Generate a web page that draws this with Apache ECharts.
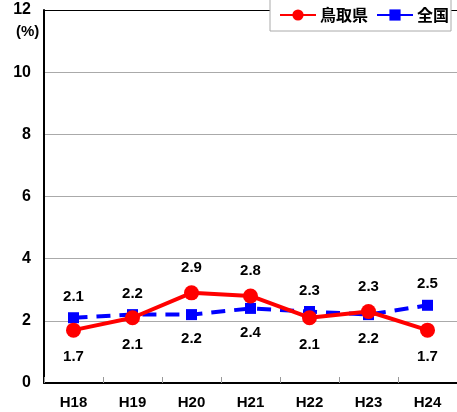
<!DOCTYPE html>
<html>
<head>
<meta charset="utf-8">
<script src="https://cdn.jsdelivr.net/npm/echarts@6/dist/echarts.min.js"></script>
<style>
  html, body { margin: 0; padding: 0; background: #fff; }
  #main { width: 457px; height: 412px; }
</style>
</head>
<body>
<div id="main"></div>
<script>
  // 年度
  var years = ['H18', 'H19', 'H20', 'H21', 'H22', 'H23', 'H24'];
  // 鳥取県
  var tottori = [1.7, 2.1, 2.9, 2.8, 2.1, 2.3, 1.7];
  // 全国
  var zenkoku = [2.1, 2.2, 2.2, 2.4, 2.3, 2.2, 2.5];
  var yTicks = [0, 2, 4, 6, 8, 10, 12];

  var numFont = '"Liberation Sans", Arial, sans-serif';
  var jpFont = '"Noto Sans CJK JP", sans-serif';

  // 値の大きい方を上、小さい方を下にラベルを置く
  function withLabels(vals, other, distUp, distDown) {
    return vals.map(function (v, i) {
      var up = v >= other[i];
      return {
        value: v,
        label: { position: up ? 'top' : 'bottom', distance: up ? distUp : distDown }
      };
    });
  }

  // 一番上の目盛線だけ黒（枠線）
  var splitColors = yTicks.map(function (t, i) {
    return i === yTicks.length - 1 ? '#000' : '#aaa';
  });

  var chart = echarts.init(document.getElementById('main'));
  var option = {
    animation: false,
    grid: { left: 44, right: 0, top: 10, bottom: 29 },
    legend: {
      left: 270, top: -1,
      padding: [8, 2, 8, 9],
      itemGap: 8,
      itemWidth: 36, itemHeight: 14,
      backgroundColor: '#fff',
      borderColor: '#aaa', borderWidth: 1,
      textStyle: { fontFamily: jpFont, fontWeight: 'bold', fontSize: 16, color: '#000', padding: [0, 0, 0, -1] },
      data: ['鳥取県', '全国']
    },
    graphic: [{
      type: 'text', left: 16, top: 24,
      style: { text: '(%)', font: 'bold 15px ' + numFont, fill: '#000' }
    }],
    xAxis: {
      type: 'category',
      data: years,
      boundaryGap: true,
      axisLine: { lineStyle: { color: '#000', width: 2 } },
      axisTick: { show: true, inside: true, length: 6, lineStyle: { color: '#999' } },
      axisLabel: { margin: 12, fontFamily: numFont, fontWeight: 'bold', fontSize: 15, color: '#000' }
    },
    yAxis: {
      type: 'value',
      min: yTicks[0], max: yTicks[yTicks.length - 1], interval: 2,
      axisLine: { show: true, lineStyle: { color: '#000', width: 2 } },
      axisTick: { show: false },
      splitLine: { lineStyle: { color: splitColors, width: 1 } },
      axisLabel: { margin: 13, fontFamily: numFont, fontWeight: 'bold', fontSize: 16, color: '#000' }
    },
    series: [
      {
        name: '鳥取県',
        type: 'line',
        z: 3,
        data: withLabels(tottori, zenkoku, 10, 12),
        symbol: 'circle', symbolSize: 15,
        lineStyle: { color: '#ff0000', width: 4 },
        itemStyle: { color: '#ff0000' },
        label: { show: true, fontFamily: numFont, fontWeight: 'bold', fontSize: 15, color: '#000' }
      },
      {
        name: '全国',
        type: 'line',
        z: 2,
        data: withLabels(zenkoku, tottori, 8, 11),
        symbol: 'rect', symbolSize: 11,
        lineStyle: { color: '#0000ff', width: 4, type: [14, 9] },
        itemStyle: { color: '#0000ff' },
        label: { show: true, fontFamily: numFont, fontWeight: 'bold', fontSize: 15, color: '#000' }
      }
    ]
  };
  chart.setOption(option);
</script>
</body>
</html>
